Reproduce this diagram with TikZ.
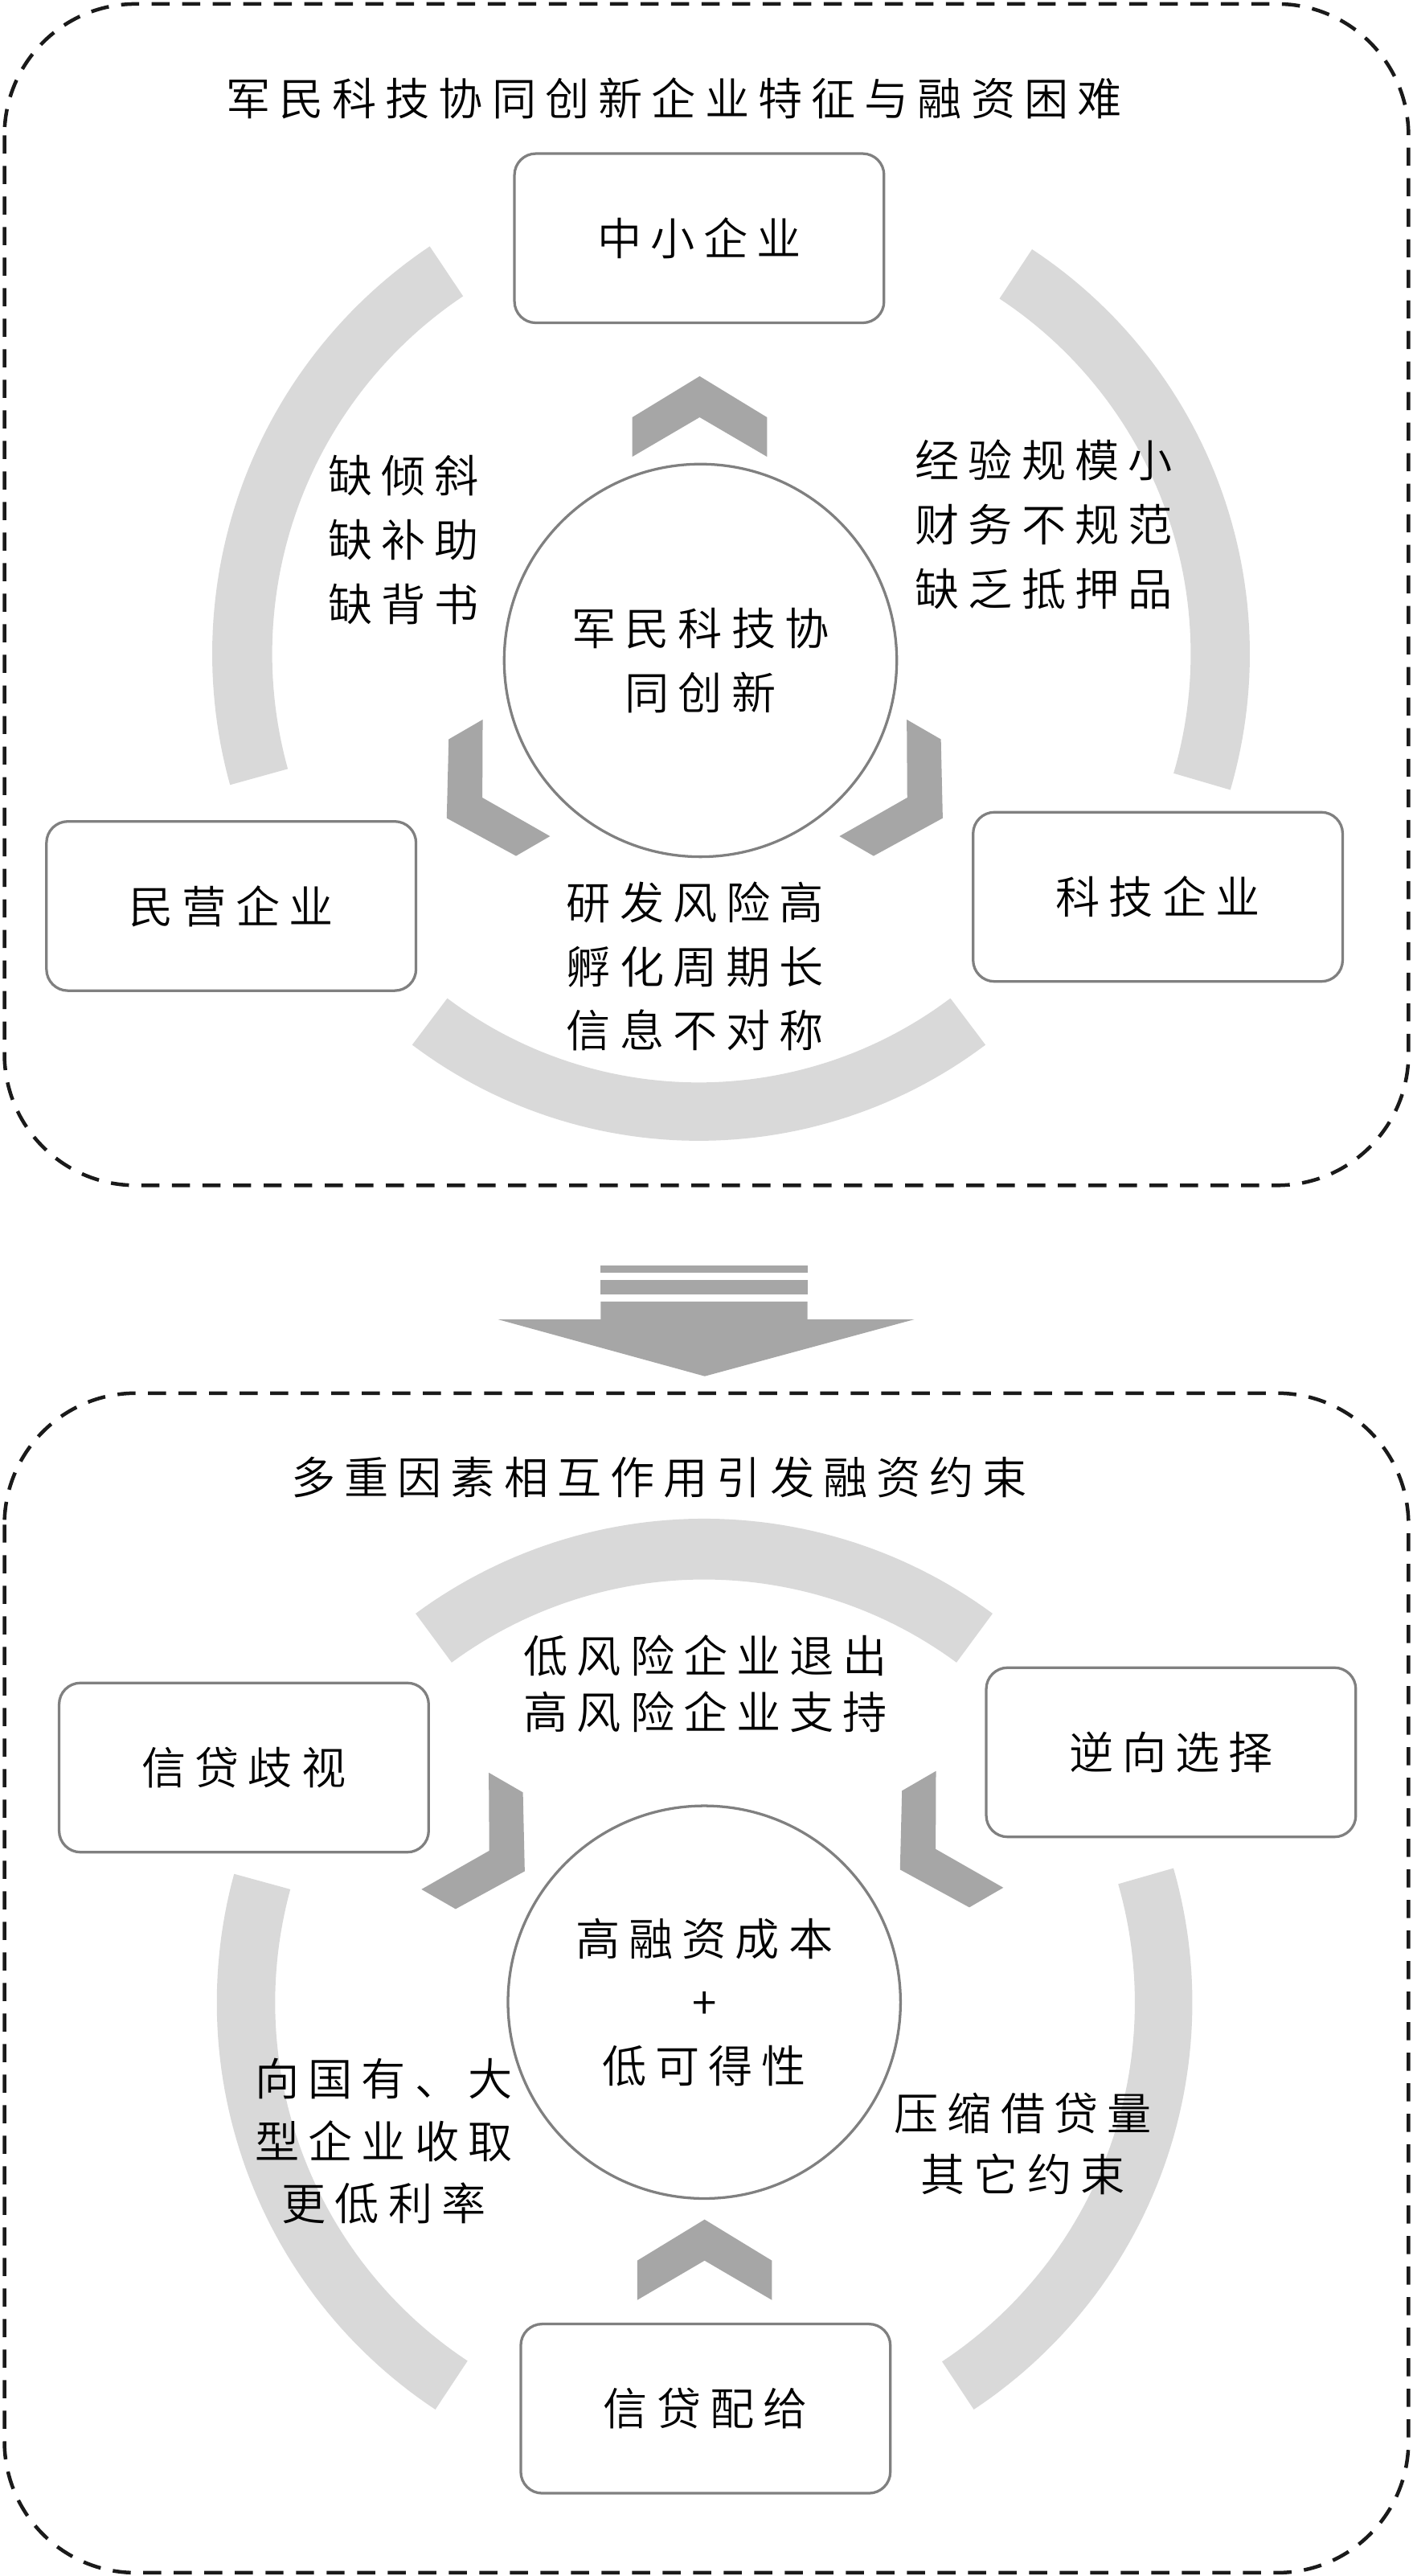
\documentclass[tikz,border=0pt]{standalone}
\usepackage{fontspec}
\IfFontExistsTF{Noto Sans CJK SC DemiLight}
  {\newfontfamily\cjk[LetterSpace=20]{Noto Sans CJK SC DemiLight}}
  {\newfontfamily\cjk[LetterSpace=20]{Noto Sans CJK SC}}
\definecolor{bandgray}{HTML}{D9D9D9}
\definecolor{chevgray}{HTML}{A6A6A6}
\definecolor{edgegray}{HTML}{808080}
\definecolor{framegray}{HTML}{1A1A1A}
% band: cx cy rin rout a1 a2 (math angles, screen y downward)
\newcommand\band[6]{%
  \fill[bandgray] plot[domain=#5:#6,samples=60] ({#1+#4*cos(\x)},{#2-#4*sin(\x)})
    -- plot[domain=#6:#5,samples=60] ({#1+#3*cos(\x)},{#2-#3*sin(\x)}) -- cycle;}
\begin{document}
\begin{tikzpicture}[x=1pt,y=-1pt,
  boxnode/.style={draw=edgegray, line width=1.6pt, rounded corners=13pt, fill=white,
    minimum width=225pt, minimum height=103pt, inner sep=0pt,
    font=\cjk\fontsize{27}{39}\selectfont},
  ringnode/.style={circle, draw=edgegray, line width=1.6pt, fill=white,
    minimum size=239pt, inner sep=0pt, align=center},
  lbl/.style={inner sep=0pt, align=center, font=\cjk\fontsize{27}{39}\selectfont},
  chev/.style={fill=chevgray},
  dashframe/.style={draw=framegray, line width=2.2pt, dash pattern=on 11pt off 7.6pt, rounded corners=80pt}
]
\useasboundingbox (0,0) rectangle (860,1568);
\fill[white] (0,0) rectangle (860,1568);

% ---------- frames ----------
\draw[dashframe] (2.7,2.4) rectangle (857.6,721.5);
\draw[dashframe] (2.7,848) rectangle (857.6,1566);

% ---------- top section bands ----------
\band{427.7}{398}{262}{298.5}{123.8}{195.5}
\band{466}{398}{259}{295}{-16.3}{56.6}
\band{425.5}{404.4}{254.5}{290}{233}{307}

% ---------- bottom section bands ----------
\band{428.7}{1220.4}{259}{296}{53.6}{126.4}
\band{429}{1219}{261.5}{297}{164.7}{236.5}
\band{429}{1219}{262}{297}{-56.5}{16}

% ---------- top section chevrons (pointing outward) ----------
\fill[chev] (426,229) -- (467,254) -- (467,278) -- (426,254) -- (385,278) -- (385,254) -- cycle;
\fill[chev] (272,498) -- (273.2,450) -- (293.9,438) -- (293.7,485.5) -- (334.9,509) -- (314.2,521) -- cycle;
\fill[chev] (574,498) -- (531.9,521) -- (511.1,509) -- (552.4,485.5) -- (552.1,438) -- (572.9,450) -- cycle;

% ---------- bottom section chevrons (pointing inward) ----------
\fill[chev] (429,1351) -- (470,1376) -- (470,1400) -- (429,1376) -- (388,1400) -- (388,1376) -- cycle;
\fill[chev] (319.5,1139) -- (277.4,1162) -- (256.6,1150) -- (297.9,1126.5) -- (297.6,1079) -- (318.4,1091) -- cycle;
\fill[chev] (548,1138) -- (549.2,1090) -- (569.9,1078) -- (569.7,1125.5) -- (610.9,1149) -- (590.2,1161) -- cycle;

% ---------- big down arrow ----------
\fill[chevgray] (365.8,770.5) rectangle (491.7,774.9);
\fill[chevgray] (365.8,779.1) rectangle (491.7,788);
\fill[chevgray] (365.8,792.2) -- (491.7,792.2) -- (491.7,803.1) -- (556.7,803.1) -- (429.1,837.7)
  -- (303.2,803.1) -- (365.8,803.1) -- cycle;

% ---------- top section nodes ----------
\node[lbl] (title1) at (410.3,59.7) {军民科技协同创新企业特征与融资困难};
\node[boxnode] (sme) at (425.75,145) {中小企业};
\node[boxnode] (private) at (140.8,551.5) {民营企业};
\node[boxnode] (tech) at (705,545.9) {科技企业};
\node[ringnode, font=\cjk\fontsize{27}{39}\selectfont] (core1) at (426.5,402) {军民科技协\\同创新};
\node[lbl] (lackA) at (245.8,328.6) {缺倾斜\\缺补助\\缺背书};
\node[lbl] (lackB) at (635.6,319.2) {经验规模小\\财务不规范\\缺乏抵押品};
\node[lbl] (lackC) at (423.3,588.3) {研发风险高\\孵化周期长\\信息不对称};

% ---------- bottom section nodes ----------
\node[lbl] (title2) at (401.4,899.5) {多重因素相互作用引发融资约束};
\node[boxnode] (discr) at (148.5,1075.9) {信贷歧视};
\node[boxnode] (adverse) at (713,1066.6) {逆向选择};
\node[boxnode] (ration) at (429.6,1466.1) {信贷配给};
\node[ringnode, font=\cjk\fontsize{27}{38.6}\selectfont] (core2) at (428.8,1218.7) {高融资成本\\+\\低可得性};
\node[lbl, font=\cjk\fontsize{27}{34.5}\selectfont] (riskA) at (429.6,1024.8) {低风险企业退出\\高风险企业支持};
\node[lbl, font=\cjk\fontsize{27}{38}\selectfont] (rateA) at (233.7,1303.3) {向国有、大\\型企业收取\\更低利率};
\node[lbl, font=\cjk\fontsize{27}{37.2}\selectfont] (volA) at (622.8,1305) {压缩借贷量\\其它约束};
\end{tikzpicture}
\end{document}
